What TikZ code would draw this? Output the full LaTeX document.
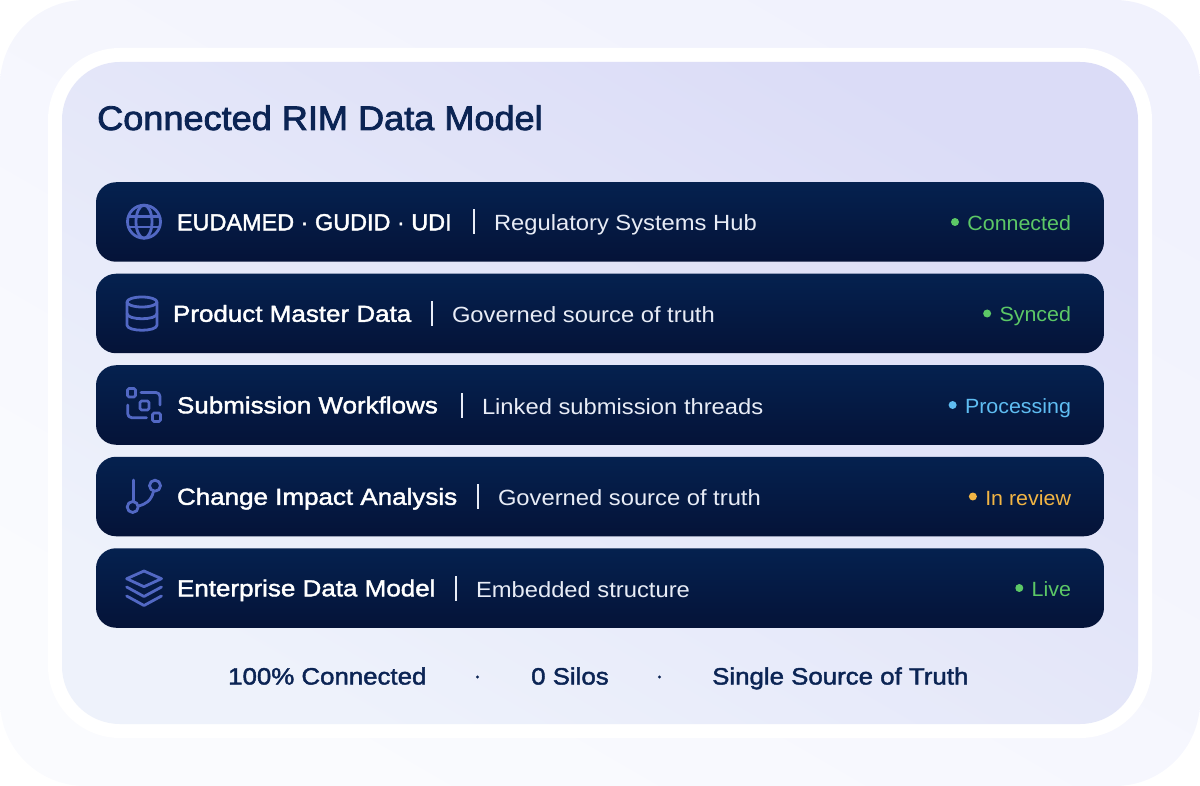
\documentclass[tikz,border=0pt]{standalone}
\usepackage{fontspec}
\setmainfont{Liberation Sans}
\newfontfamily\medfont[FakeBold=1.8,FakeStretch=1.12]{Liberation Sans}
\newfontfamily\capfont[FakeBold=1.8,FakeStretch=1.01]{Liberation Sans}
\newfontfamily\footfont[FakeBold=1.8,FakeStretch=1.095]{Liberation Sans}
\newfontfamily\titlefont[FakeBold=2.4,FakeStretch=1.062]{Liberation Sans}
\newfontfamily\regfont[FakeStretch=1.08]{Liberation Sans}
\newfontfamily\statfont[FakeStretch=1.04]{Liberation Sans}
\usetikzlibrary{positioning}
\definecolor{navy}{HTML}{0B2454}
\definecolor{rowtop}{HTML}{05214F}
\definecolor{rowbot}{HTML}{051338}
\definecolor{iconblue}{HTML}{5268C4}
\definecolor{okgreen}{HTML}{5CC866}
\definecolor{procblue}{HTML}{5FBDF2}
\definecolor{revamber}{HTML}{F2B544}
\definecolor{subwhite}{HTML}{E8ECF6}
\definecolor{outerlow}{HTML}{FAFBFE}
\definecolor{outerhigh}{HTML}{F1F2FD}
\definecolor{innerlow}{HTML}{EEF2FB}
\definecolor{innerhigh}{HTML}{DBDCF7}

\begin{document}
\begin{tikzpicture}[%
  x=1pt,
  y=-1pt,
  panel/.style={
    rounded corners=#1,
    inner sep=0pt,},
  row/.style={
    panel=20pt,
    minimum width=1008pt,
    minimum height=79.5pt,
    top color=rowtop,
    bottom color=rowbot,},
  rowhead/.style={
    font=\medfont\fontsize{23.2}{26}\selectfont,
    text=white,
    inner sep=0pt,
    text height=16.6pt,
    text depth=0pt,},
  rowsub/.style={
    font=\regfont\fontsize{22}{26}\selectfont,
    text=subwhite,
    inner sep=0pt,
    text height=18pt,
    text depth=0pt,},
  rowstat/.style={
    font=\statfont\fontsize{20.6}{24}\selectfont,
    inner sep=0pt,
    text height=17pt,
    text depth=0pt,},
  rowsep/.style={
    fill=subwhite,
    inner sep=0pt,
    minimum width=1.8pt,
    minimum height=25pt,},
  statdot/.style={
    circle,
    inner sep=0pt,
    minimum size=8pt,},
  foot/.style={
    font=\footfont\fontsize{23.6}{26}\selectfont,
    text=navy,
    inner sep=0pt,
    text height=17pt,
    text depth=0pt,},
  footdot/.style={
    circle,
    fill=navy,
    inner sep=0pt,
    minimum size=3.4pt,},
  icon/.style={
    draw=iconblue,
    line width=2.8pt,
    line cap=round,
    line join=round,},
  ]
  %% Panels
  \useasboundingbox (0,0) rectangle (1200,786);
  \node[panel=85pt, minimum width=1200pt, minimum height=786pt,
    left color=outerhigh, right color=outerlow, shading angle=-30] (outer) at (600,393) {};
  \node[panel=72pt, fill=white, minimum width=1104pt, minimum height=690pt] (ring) at (600,393) {};
  \node[panel=58pt, minimum width=1076pt, minimum height=662pt,
    left color=innerhigh, right color=innerlow, shading angle=-30] (inner) at (600,393) {};
  \node[anchor=base west, inner sep=0pt, text=navy, font=\titlefont\fontsize{34}{38}\selectfont]
    (title) at (97,130) {Connected RIM Data Model};
  %% Rows
  \node[row] (R1) at (600,222) {};
  \node[row] (R2) at (600,313.5) {};
  \node[row] (R3) at (600,405) {};
  \node[row] (R4) at (600,496.5) {};
  \node[row] (R5) at (600,588) {};
  %% Row texts
  \node[rowhead, font=\capfont\fontsize{23.2}{26}\selectfont, right = 81pt of R1.west] (H1) {EUDAMED · GUDID · UDI};
  \node[rowsep, right = 377pt of R1.west] (S1) {};
  \node[rowsub, right = 398pt of R1.west] (T1) {Regulatory Systems Hub};
  \node[rowstat, text=okgreen, left = 33pt of R1.east] (C1) {Connected};
  \node[statdot, fill=okgreen, left = 8pt of C1] (D1) {};
  \node[rowhead, right = 77pt of R2.west] (H2) {Product Master Data};
  \node[rowsep, right = 335pt of R2.west] (S2) {};
  \node[rowsub, right = 356pt of R2.west] (T2) {Governed source of truth};
  \node[rowstat, text=okgreen, left = 33pt of R2.east] (C2) {Synced};
  \node[statdot, fill=okgreen, left = 8pt of C2] (D2) {};
  \node[rowhead, right = 81pt of R3.west] (H3) {Submission Workflows};
  \node[rowsep, right = 365pt of R3.west] (S3) {};
  \node[rowsub, right = 386pt of R3.west] (T3) {Linked submission threads};
  \node[rowstat, text=procblue, left = 33pt of R3.east] (C3) {Processing};
  \node[statdot, fill=procblue, left = 8pt of C3] (D3) {};
  \node[rowhead, right = 81pt of R4.west] (H4) {Change Impact Analysis};
  \node[rowsep, right = 381pt of R4.west] (S4) {};
  \node[rowsub, right = 402pt of R4.west] (T4) {Governed source of truth};
  \node[rowstat, text=revamber, left = 33pt of R4.east] (C4) {In review};
  \node[statdot, fill=revamber, left = 8pt of C4] (D4) {};
  \node[rowhead, right = 81pt of R5.west] (H5) {Enterprise Data Model};
  \node[rowsep, right = 359pt of R5.west] (S5) {};
  \node[rowsub, right = 380pt of R5.west] (T5) {Embedded structure};
  \node[rowstat, text=okgreen, left = 33pt of R5.east] (C5) {Live};
  \node[statdot, fill=okgreen, left = 8pt of C5] (D5) {};
  %% Icons
  \draw[icon] (144,221.7) circle (16.5pt);
  \draw[icon] (144,221.7) ellipse (8pt and 16.5pt);
  \draw[icon] (128.5,216.5) -- (159.5,216.5);
  \draw[icon] (128.5,227) -- (159.5,227);
  \draw[icon] (142,302) ellipse (15pt and 5pt);
  \draw[icon] (127,302) -- (127,325) .. controls (127,332) and (157,332) .. (157,325) -- (157,302);
  \draw[icon] (127,313.5) .. controls (127,320.5) and (157,320.5) .. (157,313.5);
  \draw[icon, rounded corners=1.5pt] (127.5,388.5) rectangle (135.5,397);
  \draw[icon, rounded corners=1.5pt] (140,401) rectangle (149,410);
  \draw[icon, rounded corners=1.5pt] (152.5,413) rectangle (160.5,421.5);
  \draw[icon, rounded corners=4pt] (141,392.5) -- (160,392.5) -- (160,405);
  \draw[icon, rounded corners=4pt] (146.5,417.7) -- (127.7,417.7) -- (127.7,405);
  \draw[icon] (133.3,480) -- (133.3,501.5);
  \draw[icon] (132.7,507) circle (5.5pt);
  \draw[icon] (155,485.7) circle (5.5pt);
  \draw[icon] (153.5,491.5) .. controls (151,501) and (146,504) .. (138.5,506);
  \draw[icon] (144,571) -- (161.5,578.7) -- (144,586.7) -- (126.7,578.7) -- cycle;
  \draw[icon] (126.7,587) -- (144,596.5) -- (161.5,587);
  \draw[icon] (126.7,596) -- (144,605.5) -- (161.5,596);
  %% Footer
  \node[foot, anchor=west] (F1) at (228,676) {100\% Connected};
  \node[footdot] (G1) at (477.5,677) {};
  \node[foot, anchor=west] (F2) at (531,676) {0 Silos};
  \node[footdot] (G2) at (659.5,677) {};
  \node[foot, anchor=west] (F3) at (712,676) {Single Source of Truth};
\end{tikzpicture}
\end{document}
